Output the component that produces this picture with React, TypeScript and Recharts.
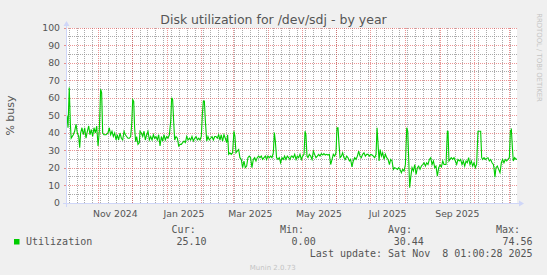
import React from 'react';
import { LineChart, Line, XAxis, YAxis } from 'recharts';

// ---- time base: graph ends at last update, spans 400 days ----
const START_MS = Date.UTC(2024, 9, 4, 1, 0, 28);
const DAY_MS = 86400000;
const SPAN_DAYS = 400;

// ---- series: days since start, % busy ----
const utilDays = [
  0, 0.9, 2.0, 3.0, 3.7, 5.6, 6.8, 8.0, 9.2, 10.4, 11.3, 12.1, 13.3, 14.5, 15.7, 16.9, 18.1, 19.3, 20.4, 21.6,
  22.8, 24.0, 25.2, 26.4, 27.6, 28.7, 29.9, 30.8, 31.7, 32.9, 34.7, 36.4, 37.6, 38.8, 40.0, 41.2, 42.4, 43.6, 44.7, 45.9,
  47.1, 48.3, 49.5, 50.7, 51.9, 53.0, 54.2, 55.4, 56.6, 57.5, 58.4, 59.3, 60.1, 61.0, 61.9, 63.1, 64.3,
  64.9, 66.1, 67.3, 68.5, 69.6, 70.8, 72.0, 73.2, 74.4, 75.6, 76.8, 77.9, 79.1, 80.3, 81.5, 82.7, 83.9, 85.0, 86.2, 87.4,
  88.6, 89.8, 91.0, 92.2, 93.0, 93.9, 94.8, 95.7, 96.9, 98.1, 99.3, 100.5, 101.6, 102.8, 104.0, 105.2, 106.4, 107.6, 108.8, 109.9,
  111.1, 112.3, 113.5, 114.7, 115.9, 117.1, 118.2, 119.4, 120.3, 121.2, 122.1, 123.0, 124.2, 125.3, 126.5, 127.7, 128.9, 130.1, 131.3,
  132.4, 133.6, 134.8, 136.0, 137.1, 138.3, 139.5, 140.7, 141.9, 142.8, 143.7, 144.8, 146.0, 147.2, 148.4, 149.3, 150.2, 151.4, 152.6, 153.7,
  154.9, 156.1, 157.3, 158.5, 159.7, 160.8, 162.0, 163.2, 164.4, 165.6, 166.8, 168.0, 169.1, 170.3, 171.5, 172.7, 173.9, 175.1, 176.3, 177.4,
  178.6, 179.8, 181.0, 182.2, 183.4, 184.3, 185.1, 186.3, 187.5, 188.7, 189.9, 191.1, 192.3, 193.4, 194.6, 195.8, 197.0, 198.2, 199.4,
  200.0, 201.2, 202.4, 203.6, 204.7, 205.9, 207.1, 208.3, 209.5, 210.7, 211.6, 212.4, 213.3, 214.2, 215.4, 216.6, 217.8, 219.0, 220.1, 221.3,
  222.5, 223.7, 224.9, 226.1, 227.3, 228.4, 229.6, 230.8, 232.0, 233.2, 234.4, 235.6, 236.7, 237.9, 239.1, 240.0, 240.9, 241.8, 242.7, 243.9,
  245.0, 246.2, 247.4, 248.6, 249.8, 251.0, 252.1, 253.3, 254.5, 255.7, 256.9, 258.1, 259.3, 260.4, 261.6, 262.8, 264.0, 265.2, 266.4,
  267.6, 268.8, 270.0, 271.2, 272.3, 273.5, 274.7, 275.6, 276.5, 277.4, 278.3, 279.5, 280.6, 281.8, 283.0, 284.2, 285.4, 286.6, 287.7, 288.9,
  290.1, 291.3, 292.5, 293.7, 294.9, 296.0, 297.2, 298.4, 299.6, 300.8, 302.0, 302.9, 303.7, 304.6, 305.5, 306.7, 307.9, 309.1, 310.3, 311.5,
  312.6, 313.8, 315.0, 316.2, 317.4, 318.6, 319.7, 320.9, 322.1, 323.3, 324.5, 325.7, 326.9, 328.0, 329.2, 330.4, 331.6, 332.8, 334.0,
  335.1, 336.9, 338.1, 338.7, 339.5, 340.4, 341.6, 342.8, 344.0, 345.2, 346.4, 347.5, 348.7, 349.9, 351.1, 352.3, 353.5, 354.7, 355.8, 357.0,
  358.2, 359.4, 360.6, 361.8, 363.0, 364.1, 365.3, 366.5, 367.7, 368.6, 369.5, 370.7, 371.8, 373.0, 374.2, 375.4, 376.6, 377.8, 379.0, 379.5,
  380.4, 381.3, 382.5, 383.7, 384.9, 386.1, 387.2, 388.4, 389.6, 390.8, 392.0, 393.2, 394.1, 395.0, 395.9, 396.7, 397.9, 399.1, 400,
];
const utilValues = [
  50, 43, 66, 45, 37, 39, 41, 45, 40, 38, 31.6, 40, 43, 39, 43, 37, 41, 44, 39, 42,
  38, 43, 40, 44, 32.6, 41, 65, 63, 40, 39, 39, 40, 43, 39, 41, 38, 40, 36, 39, 36,
  40, 37, 36, 41, 39, 38, 37, 37, 38, 45, 59, 58, 43, 35, 38, 33.5, 34.5,
  41, 40, 38, 41, 36, 39, 41, 36, 38, 36, 39, 37, 38, 36, 39, 32.6, 38, 35.4, 39, 36,
  38, 37, 39, 46.8, 60.2, 59, 46.8, 36, 38, 37, 32.6, 33.5, 33.5, 34.5, 35.4, 34.5, 38, 36, 37, 36,
  38, 35.4, 37, 38, 36, 37, 36, 38, 50.6, 58.3, 58.3, 46.8, 35.4, 38, 36, 37, 38, 36, 38,
  38, 37, 39, 36, 39, 35.4, 39, 37, 34.5, 39, 27.8, 28.7, 27.8, 28.7, 41, 38, 28.7, 29.7, 30.6, 25.9,
  24.9, 20.2, 24, 20.2, 21.1, 25.9, 26.8, 25.9, 20.2, 24.9, 25.9, 24, 25.9, 26.8, 25.9, 26.8, 24.9, 25.9, 26.8, 24.9,
  26.8, 25.9, 26.8, 25.9, 28.7, 40.2, 36, 25.9, 24.9, 25.9, 23, 25.9, 24.9, 26.8, 24.9, 26.8, 25.9, 24.9, 26.8,
  26.8, 25.9, 27.8, 24.9, 26.8, 25.9, 27.8, 24.9, 26.8, 27.8, 41, 39, 26.8, 25.9, 27.8, 26.8, 24.9, 29.7, 27.8, 25.9,
  26.8, 27.8, 26.8, 28.2, 27.4, 28.2, 27.4, 27.8, 27.4, 27.8, 22, 24.9, 27.8, 26.8, 28.7, 43, 43, 33.5, 25.9, 26.8,
  28.7, 25.9, 24.9, 26.8, 25.9, 24, 24.9, 20.6, 24, 25.9, 24.9, 26.8, 29.7, 26.8, 25.9, 27.8, 28.7, 26.8, 27.8,
  27.8, 26.8, 27.8, 27.4, 26.8, 25.9, 27.8, 43, 33.5, 24, 30.6, 26.8, 28.7, 24.9, 27.8, 25.9, 24.9, 22, 24.9, 24,
  19.2, 20.2, 19.8, 19.2, 20.2, 19.2, 17.3, 19.2, 18.3, 22, 43, 41, 25.9, 8.7, 14.5, 20.2, 18.3, 22, 16.4, 20.2,
  21.1, 19.2, 21.1, 22, 23, 21.1, 23, 22, 24.9, 25.9, 22, 24, 20.2, 21.1, 15.4, 20.2, 21.7, 20.6, 24,
  22, 22, 41, 41, 24, 24.9, 25.9, 24.9, 25.9, 24, 22, 24.9, 24, 24.9, 22, 24, 21.1, 24, 23, 25.9,
  22, 24, 21.1, 23, 20.2, 22, 41, 41, 41, 25.9, 24.9, 25.9, 24.9, 25.5, 25.9, 24, 24.9, 23, 22, 20.2,
  14.8, 20.2, 21.1, 19.2, 17.3, 23, 24.9, 23, 24.9, 24, 24.9, 25.9, 41, 42, 31.6, 24, 25.9, 24.9, 25.1,
];

// ---- axis / grid definitions ----
const monthStartDates = [
  '2024-11-01', '2024-12-01', '2025-01-01', '2025-02-01', '2025-03-01', '2025-04-01', '2025-05-01',
  '2025-06-01', '2025-07-01', '2025-08-01', '2025-09-01', '2025-10-01', '2025-11-01',
];
const firstWeekStart = '2024-10-06';
const labelDates = ['2024-11-16', '2025-01-16', '2025-03-16', '2025-05-16', '2025-07-16', '2025-09-16'];
const labelTexts = ['Nov 2024', 'Jan 2025', 'Mar 2025', 'May 2025', 'Jul 2025', 'Sep 2025'];
const yMajorTicks = [0, 10, 20, 30, 40, 50, 60, 70, 80, 90, 100];
const yMinorTicks = [5, 15, 25, 35, 45, 55, 65, 75, 85, 95];

const seriesName = 'Utilization';
const statLabels = ['Cur:', 'Min:', 'Avg:', 'Max:'];
const statValues = ['25.10', '0.00', '30.44', '74.56'];
const lastUpdate = 'Last update: Sat Nov  8 01:00:28 2025';
const title = 'Disk utilization for /dev/sdj - by year';
const yLabel = '% busy';
const sideMark = 'RRDTOOL / TOBI OETIKER';
const footer = 'Munin 2.0.73';

// ---- derived ----
const toDay = (s: string) => (Date.parse(s + 'T00:00:00Z') - START_MS) / DAY_MS;
const data = utilDays.map((d, i) => ({ d, v: utilValues[i] }));
const monthTicks = monthStartDates.map(toDay);
const weekTicks: number[] = [];
for (let t = toDay(firstWeekStart); t < SPAN_DAYS; t += 7) weekTicks.push(t);
const labelTicks = labelDates.map(toDay);
const labelMap = new Map(labelTicks.map((t, i) => [t, labelTexts[i]]));

// ---- layout / style ----
const W = 547;
const H = 275;
const PL = 67;
const PR = 517;
const PT = 28;
const PB = 203;
const BG = '#f0f0f0';
const FONT = '#555555';
const GRID_MINOR = 'rgba(143,143,143,0.75)';
const GRID_MAJOR = 'rgba(222,79,79,0.6)';
const AXIS = '#CFD6F8';
const SANS = '"DejaVu Sans", sans-serif';
const MONO = '"DejaVu Sans Mono", monospace';

// grid positions snapped to pixel rows/columns, like rrdtool does
const snap = (v: number) => Math.floor(v) + 0.5;
const xPos = (d: number) => PL + (d / SPAN_DAYS) * (PR - PL);
const yPos = (v: number) => PB - (v / 100) * (PB - PT);
const weekPx = weekTicks.map((t) => snap(xPos(t)));
const monthPx = monthTicks.map((t) => snap(xPos(t)));
const yMinorRow = yMinorTicks.map((t) => Math.floor(yPos(t)));
const yMajorRow = yMajorTicks.map((t) => Math.floor(yPos(t)));

const WeekTick = (p: any) => (
  <line x1={snap(p.x)} x2={snap(p.x)} y1={p.y + 0.5} y2={p.y + 2.5} stroke={GRID_MINOR} />
);
const MonthTick = (p: any) => (
  <line x1={snap(p.x)} x2={snap(p.x)} y1={p.y + 0.5} y2={p.y + 3.5} stroke={GRID_MAJOR} />
);
const LabelTick = (p: any) => (
  <text x={p.x} y={p.y + 14} textAnchor="middle" fill={FONT} fontSize={9.3} fontFamily={SANS}>
    {labelMap.get(p.payload.value)}
  </text>
);
const YMajorTick = (p: any) => (
  <g>
    <rect x={p.x - 3} y={Math.floor(p.y)} width={3} height={1} fill={GRID_MAJOR} />
    <text x={p.x - 7} y={p.y} dy="0.36em" textAnchor="end" fill={FONT} fontSize={9.3} fontFamily={SANS}>
      {p.payload.value}
    </text>
  </g>
);

export default function App() {
  const statX = [171.6, 280, 388, 496];
  const valEnd = [206.5, 315.7, 423.8, 532.6];
  return (
    <div style={{ position: 'absolute', left: 0, top: 0, width: W, height: H, background: BG }}>
      {/* canvas + dotted grid, behind the chart */}
      <svg width={W} height={H} style={{ position: 'absolute', left: 0, top: 0 }}>
        <defs>
          <pattern id="dotMinorH" patternUnits="userSpaceOnUse" x={0} y={0} width={2} height={1}>
            <rect x={0} y={0} width={1} height={1} fill={GRID_MINOR} />
          </pattern>
          <pattern id="dotMajorH" patternUnits="userSpaceOnUse" x={0} y={0} width={2} height={1}>
            <rect x={0} y={0} width={1} height={1} fill={GRID_MAJOR} />
          </pattern>
        </defs>
        <rect x={PL} y={PT} width={PR - PL} height={PB - PT + 1} fill="#ffffff" />
        {yMinorRow.map((y, i) => (
          <rect key={'hm' + i} x={PL} y={y} width={PR - PL} height={1} fill="url(#dotMinorH)" />
        ))}
        {weekPx.map((x, i) => (
          <line key={'vw' + i} x1={x} x2={x} y1={PT} y2={PB} stroke={GRID_MINOR} strokeDasharray="1 1" />
        ))}
        {yMajorRow.map((y, i) => (
          <rect key={'hM' + i} x={PL} y={y} width={PR - PL} height={1} fill="url(#dotMajorH)" />
        ))}
        {monthPx.map((x, i) => (
          <line key={'vM' + i} x1={x} x2={x} y1={PT} y2={PB} stroke={GRID_MAJOR} strokeDasharray="1 1" />
        ))}
      </svg>
      <LineChart
        width={W}
        height={H}
        data={data}
        margin={{ top: PT, right: W - PR, bottom: H - PB - 20, left: 0 }}
      >
        <XAxis xAxisId="week" dataKey="d" type="number" domain={[0, SPAN_DAYS]} allowDataOverflow
          ticks={weekTicks} interval={0} height={0} tickSize={0} tickMargin={0}
          axisLine={false} tickLine={false} tick={<WeekTick />} />
        <XAxis xAxisId="month" dataKey="d" type="number" domain={[0, SPAN_DAYS]} allowDataOverflow
          ticks={monthTicks} interval={0} height={0} tickSize={0} tickMargin={0}
          axisLine={false} tickLine={false} tick={<MonthTick />} />
        <XAxis xAxisId="label" dataKey="d" type="number" domain={[0, SPAN_DAYS]} allowDataOverflow
          ticks={labelTicks} interval={0} height={20} tickSize={0} tickMargin={0}
          axisLine={false} tickLine={false} tick={<LabelTick />} />
        <YAxis yAxisId="major" type="number" domain={[0, 100]} allowDataOverflow ticks={yMajorTicks}
          interval={0} width={PL} tickSize={0} tickMargin={0} axisLine={false} tickLine={false}
          tick={<YMajorTick />} />
        <Line xAxisId="week" yAxisId="major" dataKey="v" type="linear" stroke="#00cc00"
          strokeWidth={1.1} dot={false} activeDot={false} isAnimationActive={false} />
      </LineChart>
      <svg width={W} height={H} style={{ position: 'absolute', left: 0, top: 0, pointerEvents: 'none' }}>
        <line x1={PL - 4} x2={PR + 4} y1={PB + 0.5} y2={PB + 0.5} stroke={AXIS} />
        <line x1={PL - 0.5} x2={PL - 0.5} y1={PB + 4} y2={PT - 4} stroke={AXIS} />
        <polygon points={`${PR + 2},${PB + 0.5 - 3} ${PR + 2},${PB + 0.5 + 3} ${PR + 7},${PB + 0.5}`} fill={AXIS} />
        <polygon points={`${PL - 3.5},${PT - 2} ${PL + 2.5},${PT - 2} ${PL - 0.5},${PT - 7}`} fill={AXIS} />
        <text x={273.5} y={23.7} textAnchor="middle" fill={FONT} fontSize={12.5} fontFamily={SANS}>{title}</text>
        <text x={0} y={0} transform="translate(539,57.5) rotate(90)" textAnchor="middle" dominantBaseline="central"
          fill="#c4c4c4" fontSize={6.9} fontFamily={SANS}>{sideMark}</text>
        <text x={0} y={0} transform="translate(10.5,115.5) rotate(-90)" textAnchor="middle" dominantBaseline="central"
          fill={FONT} fontSize={11} fontFamily={SANS}>{yLabel}</text>
        <rect x={14} y={239} width={5.5} height={5.5} fill="#00cc00" />
        <text x={26} y={244.6} fill={FONT} fontSize={10} fontFamily={MONO}>{seriesName}</text>
        {statLabels.map((s, i) => (
          <text key={s} x={statX[i]} y={232.5} fill={FONT} fontSize={10} fontFamily={MONO}>{s}</text>
        ))}
        {statValues.map((s, i) => (
          <text key={i} x={valEnd[i]} y={244.6} textAnchor="end" fill={FONT} fontSize={10} fontFamily={MONO}>{s}</text>
        ))}
        <text x={532.6} y={256.7} textAnchor="end" fill={FONT} fontSize={10} fontFamily={MONO}
          style={{ whiteSpace: 'pre' }}>{lastUpdate}</text>
        <text x={272.7} y={269.8} textAnchor="middle" fill="#c4c4c4" fontSize={7} fontFamily={SANS}>{footer}</text>
      </svg>
    </div>
  );
}
